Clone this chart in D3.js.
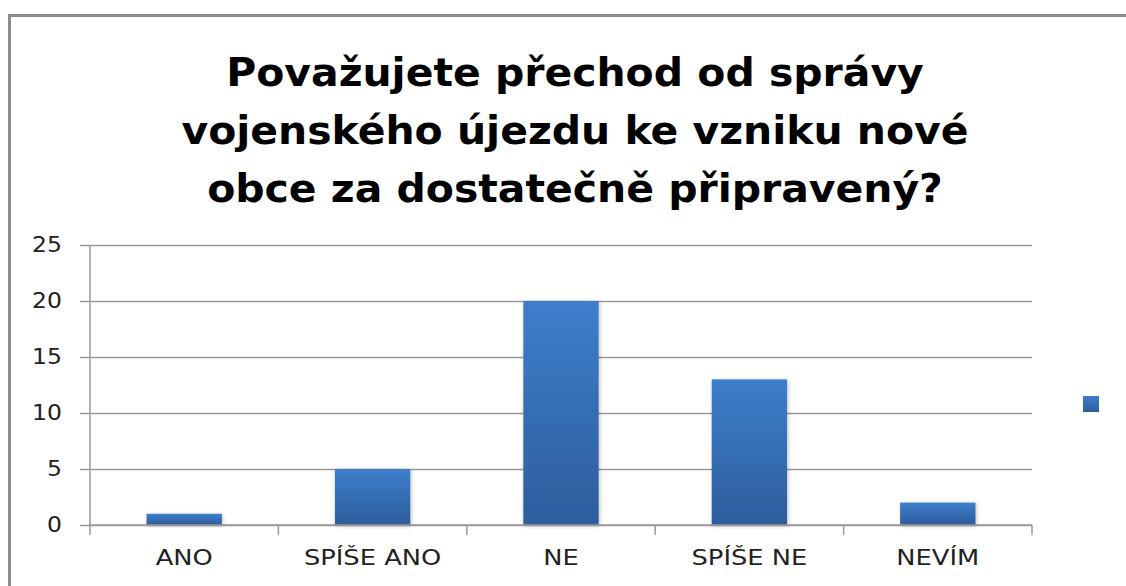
<!DOCTYPE html>
<html>
<head>
<meta charset="utf-8">
<script src="https://cdn.jsdelivr.net/npm/d3@7"></script>
<style>
  body { margin: 0; background: #fff; }
  svg { display: block; font-family: "DejaVu Sans", sans-serif; }
</style>
</head>
<body>
<script>
var WIDTH = 1126,
    HEIGHT = 586;

// data
var categories = ["ANO", "SPÍŠE ANO", "NE", "SPÍŠE NE", "NEVÍM"];
var values = [1, 5, 20, 13, 2];
var yTicks = [0, 5, 10, 15, 20, 25];
var titleLines = ["Považujete přechod od správy", "vojenského újezdu ke vzniku nové", "obce za dostatečně připravený?"];

var svg = d3.select("body").append("svg")
    .attr("width", WIDTH)
    .attr("height", HEIGHT);

var defs = svg.append("defs");
var grad = defs.append("linearGradient")
    .attr("id", "barGrad")
    .attr("x1", 0).attr("y1", 0).attr("x2", 0).attr("y2", 1);
grad.append("stop").attr("offset", "0%").attr("stop-color", "#3d7ecb");
grad.append("stop").attr("offset", "100%").attr("stop-color", "#2d5d9c");

var shadow = defs.append("filter").attr("id", "shadow")
    .attr("x", "-20%").attr("y", "-20%").attr("width", "140%").attr("height", "140%");
shadow.append("feDropShadow")
    .attr("dx", 1).attr("dy", 1).attr("stdDeviation", 2)
    .attr("flood-color", "#000").attr("flood-opacity", 0.25);

// outer frame (runs off the right and bottom edge)
svg.append("rect")
    .attr("x", 9.5).attr("y", 15.5)
    .attr("width", 1200).attr("height", 700)
    .attr("fill", "none")
    .attr("stroke", "#8c8c8c")
    .attr("stroke-width", 3);

// title (the original text is a bit wider than DejaVu, so stretch it)
svg.append("g").selectAll("text")
  .data(titleLines)
  .enter().append("text")
    .attr("transform", function(d, i){ return "translate(575," + (86 + i * 58) + ") scale(1.05,1)"; })
    .attr("text-anchor", "middle")
    .style("font-size", "39px")
    .style("font-weight", "bold")
    .style("fill", "#000")
    .text(function(d){ return d; });

var margin = {left: 90, right: 1032, top: 245, bottom: 525};

var x = d3.scaleBand()
    .domain(categories)
    .range([margin.left, margin.right])
    .paddingInner(0.6)
    .paddingOuter(0.3);

var y = d3.scaleLinear()
    .domain([0, 25])
    .range([margin.bottom, margin.top]);

// gridlines + y labels
var yAxis = svg.append("g")
    .attr("transform", "translate(" + margin.left + ",0)")
    .call(d3.axisLeft(y).tickValues(yTicks).tickSize(10).tickPadding(15))
    .call(function(g){ g.select(".domain").remove(); });
yAxis.selectAll(".tick line").attr("stroke", "#9a9a9a").attr("stroke-width", 1.5);
yAxis.selectAll(".tick").append("line")
    .attr("x2", margin.right - margin.left)
    .attr("stroke", "#9a9a9a")
    .attr("stroke-width", 1.5);
yAxis.selectAll(".tick text")
    .attr("transform", "scale(1.12,1)")
    .style("font-size", "21px")
    .style("fill", "#222")
    .style("font-family", "DejaVu Sans, sans-serif");

// y axis line
svg.append("line")
    .attr("x1", margin.left).attr("x2", margin.left)
    .attr("y1", margin.top).attr("y2", margin.bottom)
    .attr("stroke", "#9a9a9a").attr("stroke-width", 1.5);

// bars
svg.append("g").selectAll("rect")
  .data(values)
  .enter().append("rect")
    .attr("x", function(d, i){ return x(categories[i]); })
    .attr("y", function(d){ return y(d); })
    .attr("width", x.bandwidth())
    .attr("height", function(d){ return y(0) - y(d); })
    .attr("fill", "url(#barGrad)")
    .attr("filter", "url(#shadow)");

// x axis
var xAxis = svg.append("g")
    .attr("transform", "translate(0," + margin.bottom + ")")
    .call(d3.axisBottom(x).tickSize(0).tickPadding(24))
    .call(function(g){ g.select(".domain").remove(); });
xAxis.selectAll(".tick text")
    .attr("transform", "scale(1.17,1)")
    .style("font-size", "22px")
    .style("fill", "#222")
    .style("font-family", "DejaVu Sans, sans-serif");
xAxis.append("line")
    .attr("x1", margin.left).attr("x2", margin.right)
    .attr("stroke", "#9a9a9a").attr("stroke-width", 1.5);
var bounds = d3.range(categories.length + 1).map(function(i){
  return margin.left + i * (margin.right - margin.left) / categories.length;
});
xAxis.selectAll(".bound")
  .data(bounds)
  .enter().append("line")
    .attr("class", "bound")
    .attr("x1", function(d){ return d; })
    .attr("x2", function(d){ return d; })
    .attr("y1", 0).attr("y2", 10)
    .attr("stroke", "#9a9a9a").attr("stroke-width", 1.5);

// legend marker (no label)
svg.append("rect")
    .attr("x", 1083).attr("y", 396)
    .attr("width", 16).attr("height", 16)
    .attr("fill", "url(#barGrad)");
</script>
</body>
</html>
